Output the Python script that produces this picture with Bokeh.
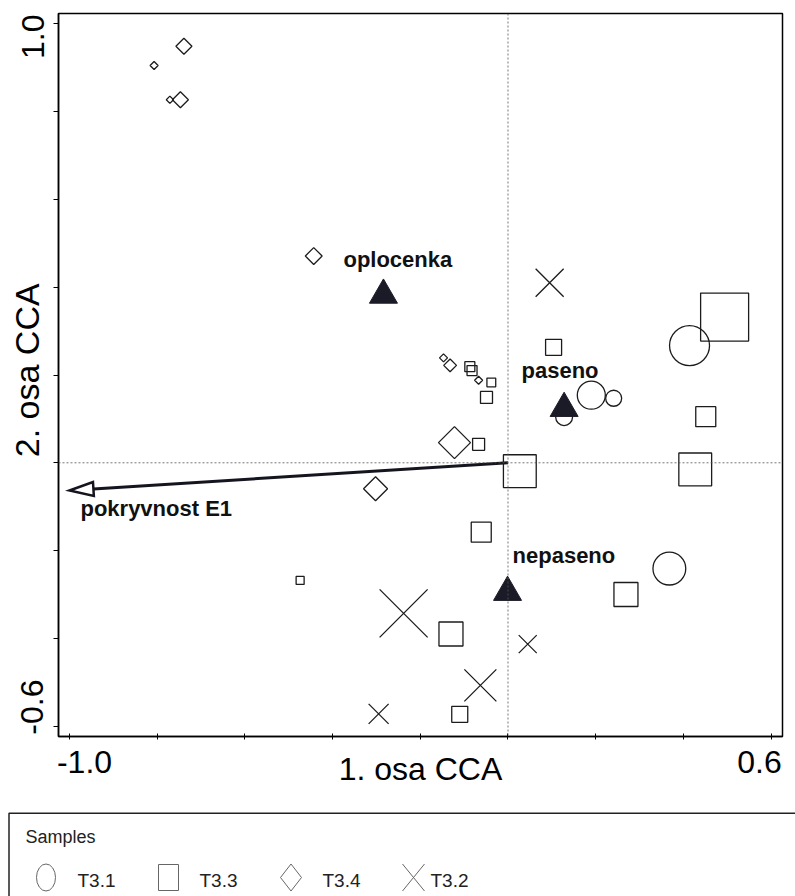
import numpy as np
from bokeh.plotting import figure
from bokeh.models import Range1d, FixedTicker, Span, Label
from bokeh.layouts import column
from bokeh.embed import file_html
from bokeh.resources import INLINE

# ---------------- data: CCA sample scores ----------------
t31_x = [0.414, 0.190, 0.241, 0.128, 0.368]
t31_y = [0.267, 0.154, 0.147, 0.104, -0.241]
t31_w = [5.0, 3.5, 2.0, 2.1, 4.1]

t33_x = [-0.087, -0.082, -0.038, -0.049, -0.067, 0.027, 0.104, 0.494, 0.451, 0.427,
         -0.061, -0.474, -0.130, -0.110, 0.269]
t33_y = [0.219, 0.210, 0.183, 0.149, 0.042, -0.019, 0.263, 0.332, 0.105, -0.015,
         -0.158, -0.268, -0.390, -0.573, -0.300]
t33_w = [1.25, 1.25, 1.1, 1.5, 1.5, 4.1, 2.0, 6.0, 2.5, 4.1, 2.5, 1.0, 3.0, 2.0, 3.0]

t34_x = [-0.739, -0.807, -0.771, -0.747, -0.443, -0.147, -0.132, -0.067, -0.122, -0.302]
t34_y = [0.949, 0.905, 0.827, 0.827, 0.471, 0.239, 0.222, 0.188, 0.046, -0.059]
t34_w = [2.0, 1.0, 0.9, 2.0, 2.1, 1.0, 1.6, 1.0, 4.0, 3.0]

t32_x = [0.095, -0.238, -0.063, -0.295, 0.045]
t32_y = [0.410, -0.343, -0.507, -0.572, -0.413]
t32_w = [3.5, 6.0, 4.0, 2.5, 2.25]

# nominal environmental variables (centroids)
env_names = ["oplocenka", "paseno", "nepaseno"]
env_x = [-0.284, 0.128, -0.001]
env_y = [0.382, 0.124, -0.295]

# quantitative environmental variable (arrow)
arrow_name = "pokryvnost E1"
arrow_x = -1.0
arrow_y = -0.063

x_ticks = [-1.0, -0.8, -0.6, -0.4, -0.2, 0.0, 0.2, 0.4, 0.6]
y_ticks = [-0.6, -0.4, -0.2, 0.0, 0.2, 0.4, 0.6, 0.8, 1.0]
x_tick_labels = ["-1.0", "0.6"]
y_tick_labels = ["-0.6", "1.0"]
x_title = "1. osa CCA"
y_title = "2. osa CCA"
legend_title = "Samples"
legend_labels = ["T3.1", "T3.3", "T3.4", "T3.2"]

# ---------------- layout constants ----------------
W, H_MAIN, H_LEG = 795, 805, 91
X0, X1 = -1.025, 0.626
Y0, Y1 = -0.6235, 1.0235
FL, FT, FR, FB = 58, 13, 782, 736          # frame edges on the page
KX = (FR - FL) / (X1 - X0)
KY = (FB - FT) / (Y1 - Y0)
UNIT = 8.0
INK = "#1c1c1c"
FONT = "Liberation Sans"


def xpix(px):
    return round(X0 + (px - FL) / KX, 5)


def ypix(py):
    return round(Y1 - (py - FT) / KY, 5)


p = figure(width=W, height=H_MAIN, x_range=Range1d(X0, X1), y_range=Range1d(Y0, Y1),
           output_backend="svg", toolbar_location=None,
           min_border_left=FL, min_border_right=W - FR, min_border_top=FT,
           min_border_bottom=H_MAIN - FB,
           background_fill_color="white", border_fill_color="white")
p.frame_align = False
p.grid.visible = False
p.outline_line_color = "black"
p.outline_line_width = 1.5

# x axis: real ticks as minor ticks, labels sit flush with the frame edges
xl_pos = [xpix(84), xpix(759)]
p.xaxis.ticker = FixedTicker(ticks=xl_pos, minor_ticks=x_ticks)
p.xaxis.major_label_overrides = {xl_pos[0]: x_tick_labels[0], xl_pos[1]: x_tick_labels[1]}
p.xaxis.major_tick_line_color = None
p.xaxis.major_tick_in = 0
p.xaxis.major_tick_out = 0
p.xaxis.minor_tick_in = 3
p.xaxis.minor_tick_out = 3
p.xaxis.major_label_standoff = 11
p.xaxis.axis_label = x_title
p.xaxis.axis_label_standoff = -25

# y axis: rotated labels are end-aligned at their tick
yl_pos = [ypix(679), ypix(14)]
p.yaxis.ticker = FixedTicker(ticks=yl_pos, minor_ticks=y_ticks)
p.yaxis.major_label_overrides = {yl_pos[0]: y_tick_labels[0], yl_pos[1]: y_tick_labels[1]}
p.yaxis.major_tick_line_color = None
p.yaxis.major_tick_in = 0
p.yaxis.major_tick_out = 0
p.yaxis.minor_tick_in = 0
p.yaxis.minor_tick_out = 5
p.yaxis.major_label_orientation = np.pi / 2
p.yaxis.major_label_standoff = 21
p.yaxis.axis_label = "\u00a0" + y_title
p.yaxis.axis_label_standoff = -38

p.axis.axis_line_color = "black"
p.axis.axis_line_width = 1.5
p.axis.minor_tick_line_color = "black"
p.axis.minor_tick_line_width = 1
p.axis.major_label_text_font = FONT
p.axis.major_label_text_font_size = "32px"
p.axis.major_label_text_color = "black"
p.axis.axis_label_text_font = FONT
p.axis.axis_label_text_font_style = "normal"
p.axis.axis_label_text_color = "black"
p.xaxis.axis_label_text_font_size = "32px"
p.yaxis.axis_label_text_font_size = "34px"

p.add_layout(Span(location=0, dimension="height", line_color="#555555",
                  line_width=0.8, line_dash="2 2"))
p.add_layout(Span(location=0, dimension="width", line_color="#555555",
                  line_width=0.8, line_dash="2 2"))

# samples
p.scatter(t33_x, t33_y, size=[w * UNIT for w in t33_w], marker="square",
          fill_color=None, line_color=INK, line_width=1.3)
p.scatter(t31_x, t31_y, size=[w * UNIT for w in t31_w], marker="circle",
          fill_color=None, line_color=INK, line_width=1.3)
p.scatter(t34_x, t34_y, size=[w * UNIT / np.sqrt(2) for w in t34_w], marker="square",
          angle=np.pi / 4, fill_color=None, line_color=INK, line_width=1.3)
p.scatter(t32_x, t32_y, size=[w * UNIT * np.sqrt(2) for w in t32_w], marker="x",
          line_color=INK, line_width=1.3)

# arrow (shaft + open head)
vx, vy = (0 - arrow_x) * KX, (0 - arrow_y) * KY
L = np.hypot(vx, vy)
ux, uy = vx / L, vy / L
HEAD_L, HEAD_W = 24, 7
bx = arrow_x + ux * HEAD_L / KX
by = arrow_y + uy * HEAD_L / KY
nx, ny = -uy, ux
head_x = [arrow_x, bx + nx * HEAD_W / KX, bx - nx * HEAD_W / KX]
head_y = [arrow_y, by + ny * HEAD_W / KY, by - ny * HEAD_W / KY]
p.line([0, bx], [0, by], line_color="#15151f", line_width=3)
p.patch(head_x, head_y, fill_color="white", line_color="#15151f", line_width=2.5,
        line_join="miter")

# centroids
p.scatter(env_x, env_y, size=28, marker="triangle", fill_color="#1b1b27",
          line_color="#1b1b27")

env_off = [(-40, 35.5), (-42.6, 38), (5, 37)]
for n, ex, ey, (ox, oy) in zip(env_names, env_x, env_y, env_off):
    p.add_layout(Label(x=ex, y=ey, x_offset=ox, y_offset=oy, text=n, text_font=FONT,
                       text_font_style="bold", text_font_size="22px",
                       text_align="left", text_baseline="alphabetic", text_color="#111111"))
p.add_layout(Label(x=arrow_x, y=arrow_y, x_offset=11, y_offset=-18, text=arrow_name,
                   text_font=FONT, text_font_style="bold", text_font_size="22px",
                   text_align="left", text_baseline="alphabetic", text_color="#111111"))

# ---------------- legend panel ----------------
lg = figure(width=W, height=H_LEG, x_range=Range1d(0, W), y_range=Range1d(H_LEG, 0),
            output_backend="svg", toolbar_location=None, x_axis_type=None,
            y_axis_type=None, min_border=0, outline_line_color=None)
lg.frame_align = False
lg.grid.visible = False
lg.line([8.5, 8.5, W], [H_LEG, 7.7, 7.7], line_color="#222222", line_width=1.5)
lg.add_layout(Label(x=25, y=31, text=legend_title, text_font=FONT, text_font_size="18px",
                    text_align="left", text_baseline="alphabetic", text_color="#222222"))
GRAY = "#666666"
sym_x = [45.5 + 122.5 * i for i in range(4)]
sym_y = 72
lg.ellipse(x=sym_x[0], y=sym_y, width=19, height=27, fill_color=None, line_color=GRAY,
           line_width=1)
lg.rect(x=sym_x[1], y=sym_y, width=20, height=26, fill_color=None, line_color=GRAY,
        line_width=1)
dcx = sym_x[2]
lg.patch([dcx, dcx + 10.5, dcx, dcx - 10.5], [sym_y - 13.5, sym_y, sym_y + 13.5, sym_y],
         fill_color=None, line_color=GRAY, line_width=1)
xcx = sym_x[3]
lg.segment(x0=[xcx - 11, xcx - 11], y0=[sym_y - 13.5, sym_y + 13.5],
           x1=[xcx + 11, xcx + 11], y1=[sym_y + 13.5, sym_y - 13.5],
           line_color=GRAY, line_width=1)
lab_x = [77, 199, 322, 430]
for t, lx in zip(legend_labels, lab_x):
    lg.add_layout(Label(x=lx, y=75, text=t, text_font=FONT, text_font_size="19px",
                        text_align="left", text_baseline="alphabetic", text_color="#222222"))

open("out.html", "w").write(file_html(column(p, lg, spacing=0), INLINE))
